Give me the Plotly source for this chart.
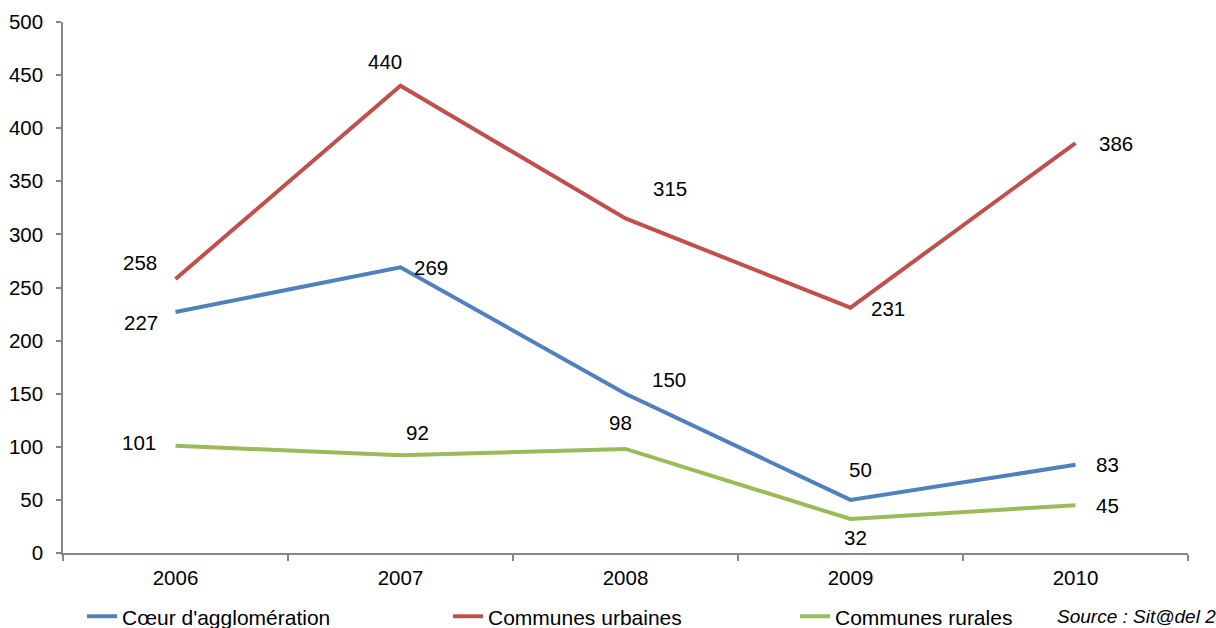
import plotly.graph_objects as go

years = ["2006", "2007", "2008", "2009", "2010"]
coeur = [227, 269, 150, 50, 83]
urbaines = [258, 440, 315, 231, 386]
rurales = [101, 92, 98, 32, 45]

names = ["Cœur d'agglomération", "Communes urbaines", "Communes rurales"]
colors = ["#4F81BD", "#C0504D", "#9BBB59"]

# label offsets in pixels (dx, dy) per point
offsets = [
    [(-35, -11), (30, 0), (43, 14), (10, 30), (32, 0)],
    [(-36, 17), (-16, 24), (44, 30), (37, -1), (40, 0)],
    [(-37, 3), (17, 23), (-5, 26), (5, -18), (32, 0)],
]

FONT = "Liberation Sans, Arial, sans-serif"
NUM_SIZE = 20.5
fig = go.Figure()
series = [coeur, urbaines, rurales]
legend_ids = ["legend", "legend2", "legend3"]
for vals, name, col, lg in zip(series, names, colors, legend_ids):
    fig.add_trace(go.Scatter(
        x=years, y=vals, name=name, mode="lines",
        line=dict(color=col, width=4), legend=lg, showlegend=True,
    ))

annotations = []
for vals, offs in zip(series, offsets):
    for i, (v, (dx, dy)) in enumerate(zip(vals, offs)):
        annotations.append(dict(
            x=i, y=v, text=str(v), showarrow=False,
            xshift=dx, yshift=dy,
            font=dict(family=FONT, size=NUM_SIZE, color="#000000"),
        ))

LEG_Y = -0.12
annotations.append(dict(
    xref="paper", yref="paper", x=(1055 - 63) / 1125, y=LEG_Y,
    xanchor="left", yanchor="middle", showarrow=False,
    text="<i>Source : Sit@del 2</i>",
    font=dict(family=FONT, size=19, color="#000000"),
))

axis_col = "#868686"
legend_common = dict(
    orientation="h", yanchor="middle", xanchor="left", y=LEG_Y,
    font=dict(family=FONT, size=21, color="#000000"),
    bgcolor="rgba(0,0,0,0)", itemwidth=30,
)
fig.update_layout(
    width=1216, height=628,
    margin=dict(l=63, r=28, t=22, b=75, autoexpand=False),
    paper_bgcolor="white", plot_bgcolor="white",
    annotations=annotations,
    showlegend=True,
    legend=dict(legend_common, x=(82 - 63) / 1125),
    legend2=dict(legend_common, x=(448 - 63) / 1125),
    legend3=dict(legend_common, x=(795 - 63) / 1125),
    xaxis=dict(
        type="category", tickson="boundaries", ticks="outside", ticklen=6,
        tickcolor=axis_col, tickwidth=1.5, showline=True, linecolor=axis_col,
        linewidth=1.5, showgrid=False, range=[-0.5, 4.5],
        tickfont=dict(family=FONT, size=NUM_SIZE, color="#000000"),
        ticklabelstandoff=6,
    ),
    yaxis=dict(
        range=[0, 500], dtick=50, ticks="outside", ticklen=5,
        tickcolor=axis_col, tickwidth=1.5, showline=True, linecolor=axis_col,
        linewidth=1.5, showgrid=False, zeroline=False,
        tickfont=dict(family=FONT, size=NUM_SIZE, color="#000000"),
        ticklabelstandoff=9,
    ),
)

fig.write_html("out.html")
